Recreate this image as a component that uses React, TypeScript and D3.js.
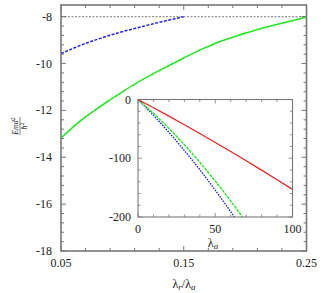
import React from "react";
import * as d3 from "d3";

// main panel: E m d^2 / hbar^2 vs lambda_r / lambda_a
const greenX = [0.05, 0.06, 0.07, 0.08, 0.09, 0.1, 0.11, 0.12, 0.13, 0.14, 0.15, 0.16, 0.17, 0.18, 0.19, 0.2, 0.21, 0.22, 0.23, 0.24, 0.25];
const greenY = [-13.18, -12.7, -12.28, -11.9, -11.55, -11.21, -10.88, -10.58, -10.3, -10.03, -9.76, -9.5, -9.27, -9.05, -8.88, -8.7, -8.55, -8.41, -8.28, -8.15, -8.02];
const blueX = [0.05, 0.06, 0.07, 0.08, 0.09, 0.1, 0.11, 0.12, 0.13, 0.14, 0.15];
const blueY = [-9.57, -9.35, -9.14, -8.96, -8.79, -8.64, -8.5, -8.37, -8.24, -8.12, -8.0];
const limitY = -8;
const xLabels = [0.05, 0.15, 0.25];
const yLabels = [-18, -16, -14, -12, -10, -8];

// inset: energy vs lambda_a
const insRedX = [0, 10, 20, 30, 40, 50, 60, 70, 80, 90, 100];
const insRedY = [0, -14.1, -28.4, -43.0, -57.9, -73.1, -88.5, -104.2, -120.2, -136.5, -153];
const insGreenX = [0, 5, 10, 20, 30, 40, 50, 60, 67.6];
const insGreenY = [0, -11.5, -23.6, -49.2, -77, -106.8, -138.8, -172.8, -200];
const insBlueX = [0, 5, 10, 20, 30, 40, 50, 60, 62.4];
const insBlueY = [0, -13.3, -27.0, -55.9, -86.8, -119.5, -154.3, -190.9, -200];
const insXLabels = [0, 50, 100];
const insYLabels = [0, -100, -200];

const FONT = "Liberation Serif, DejaVu Serif, serif";
const FRAME = "#777";

export default function App() {
  const x = d3.scaleLinear().domain([0.05, 0.25]).range([61, 306.5]);
  const y = d3.scaleLinear().domain([-18, -7.5]).range([251, 5]);
  const ix = d3.scaleLinear().domain([0, 100]).range([138, 292.5]);
  const iy = d3.scaleLinear().domain([-200, 0]).range([217, 99.5]);

  const line = (sx, sy, xs, ys) =>
    d3.line<number>().x((_, i) => sx(xs[i])).y((_, i) => sy(ys[i])).curve(d3.curveMonotoneX)(xs);

  const xTicks = d3.range(0, 11).map((i) => 0.05 + i * 0.02);
  const yTicks = d3.range(0, 26).map((i) => -18 + i * 0.4);
  const ixTicks = d3.range(0, 11).map((i) => i * 10);
  const iyTicks = d3.range(0, 11).map((i) => -200 + i * 20);
  const isMajor = (v, step) => Math.abs(v / step - Math.round(v / step)) < 1e-6;

  const [x0, x1] = x.range();
  const [y0, y1] = y.range();
  const [ix0, ix1] = ix.range();
  const [iy0, iy1] = iy.range();

  return (
    <div style={{ position: "absolute", left: 0, top: 0 }}>
      <svg width={325} height={293} style={{ display: "block", background: "#fff", fontFamily: FONT }}>
        {/* main ticks */}
        <g stroke={FRAME} strokeWidth={1}>
          {xTicks.map((t, i) => {
            const len = isMajor(t - 0.05, 0.1) ? 5 : 3;
            return (
              <g key={"xt" + i}>
                <line x1={x(t)} x2={x(t)} y1={y0} y2={y0 - len} />
                <line x1={x(t)} x2={x(t)} y1={y1} y2={y1 + len} />
              </g>
            );
          })}
          {yTicks.map((t, i) => {
            const len = isMajor(t, 2) ? 5 : 3;
            return (
              <g key={"yt" + i}>
                <line x1={x0} x2={x0 + len} y1={y(t)} y2={y(t)} />
                <line x1={x1} x2={x1 - len} y1={y(t)} y2={y(t)} />
              </g>
            );
          })}
        </g>

        {/* dotted reference line */}
        <line x1={x0} x2={x1} y1={y(limitY)} y2={y(limitY)} stroke="#555" strokeWidth={0.8} strokeDasharray="2,1.5" />

        <path d={line(x, y, blueX, blueY)} fill="none" stroke="#2222ee" strokeWidth={1.5} strokeDasharray="3,1.5" />
        <path d={line(x, y, greenX, greenY)} fill="none" stroke="#22e622" strokeWidth={1.6} />

        <rect x={x0} y={y1} width={x1 - x0} height={y0 - y1} fill="none" stroke={FRAME} strokeWidth={1.6} />

        {/* main labels */}
        <g fontSize={12} fill="#222">
          {xLabels.map((t) => (
            <text key={"xl" + t} x={x(t)} y={267} textAnchor="middle">
              {t.toFixed(2)}
            </text>
          ))}
          {yLabels.map((t) => (
            <text key={"yl" + t} x={52} y={y(t) + 4} textAnchor="end">
              {t}
            </text>
          ))}
          <text x={184} y={288} textAnchor="middle">
            λ<tspan fontStyle="italic" fontSize={9} dy={2}>r</tspan>
            <tspan dy={-2}>/λ</tspan>
            <tspan fontStyle="italic" fontSize={9} dy={2}>a</tspan>
          </text>
        </g>
        <g transform="translate(20,126) rotate(-90)" fill="#222">
          <text x={0} y={-2} textAnchor="middle" fontSize={8} fontStyle="italic">
            Emd<tspan fontSize={6} dy={-3} fontStyle="normal">2</tspan>
          </text>
          <line x1={-9} x2={9} y1={0} y2={0} stroke="#333" strokeWidth={0.6} />
          <text x={0} y={7} textAnchor="middle" fontSize={8} fontStyle="italic">
            ħ<tspan fontSize={6} dy={-3} fontStyle="normal">2</tspan>
          </text>
        </g>

        {/* inset */}
        <rect x={ix0} y={iy1} width={ix1 - ix0} height={iy0 - iy1} fill="#fff" />
        <g stroke={FRAME} strokeWidth={0.8}>
          {ixTicks.map((t) => {
            const len = isMajor(t, 50) ? 4 : 2.5;
            return (
              <g key={"ixt" + t}>
                <line x1={ix(t)} x2={ix(t)} y1={iy0} y2={iy0 - len} />
                <line x1={ix(t)} x2={ix(t)} y1={iy1} y2={iy1 + len} />
              </g>
            );
          })}
          {iyTicks.map((t) => {
            const len = isMajor(t, 100) ? 4 : 2.5;
            return (
              <g key={"iyt" + t}>
                <line x1={ix0} x2={ix0 + len} y1={iy(t)} y2={iy(t)} />
                <line x1={ix1} x2={ix1 - len} y1={iy(t)} y2={iy(t)} />
              </g>
            );
          })}
        </g>
        <path d={line(ix, iy, insBlueX, insBlueY)} fill="none" stroke="#2222ee" strokeWidth={1.4} strokeDasharray="1.5,1.2" />
        <path d={line(ix, iy, insGreenX, insGreenY)} fill="none" stroke="#22e622" strokeWidth={1.4} strokeDasharray="3,1" />
        <path d={line(ix, iy, insRedX, insRedY)} fill="none" stroke="#ee2222" strokeWidth={1.3} />
        <rect x={ix0} y={iy1} width={ix1 - ix0} height={iy0 - iy1} fill="none" stroke={FRAME} strokeWidth={1.1} />

        <g fontSize={12} fill="#222">
          {insXLabels.map((t) => (
            <text key={"ixl" + t} x={ix(t)} y={233} textAnchor="middle">
              {t}
            </text>
          ))}
          {insYLabels.map((t) => (
            <text key={"iyl" + t} x={131} y={iy(t) + 4} textAnchor="end">
              {t}
            </text>
          ))}
          <text x={213} y={247} textAnchor="middle">
            λ<tspan fontStyle="italic" fontSize={9} dy={2}>a</tspan>
          </text>
        </g>
      </svg>
    </div>
  );
}
